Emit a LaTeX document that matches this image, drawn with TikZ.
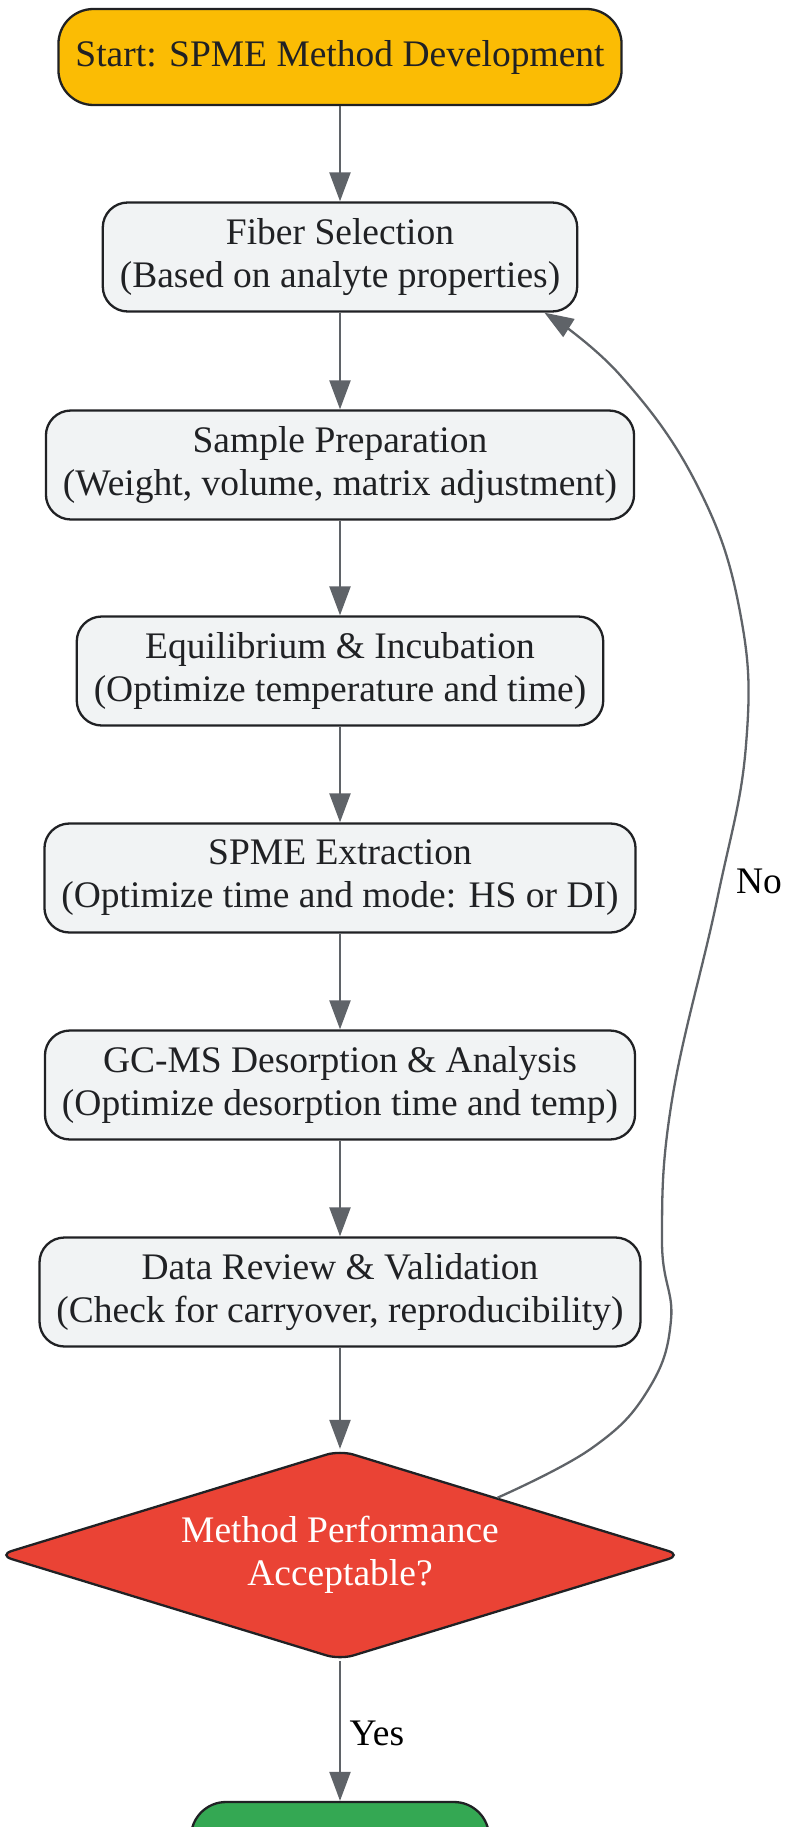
\documentclass[tikz,border=0pt]{standalone}
\usepackage{fontspec}
\setmainfont{Liberation Serif}
\usetikzlibrary{shapes.geometric,arrows.meta}
\definecolor{startc}{HTML}{FBBC04}
\definecolor{endc}{HTML}{34A853}
\definecolor{decc}{HTML}{EA4335}
\definecolor{boxfill}{HTML}{F1F3F4}
\definecolor{boxline}{HTML}{202124}
\definecolor{arrc}{HTML}{5F6368}

\begin{document}
\begin{tikzpicture}[x=1pt,y=-1pt,
  every node/.style={font=\fontsize{37.5}{43}\selectfont},
  box/.style={draw=boxline, line width=2.3pt, fill=boxfill, rounded corners=25pt,
    align=center, inner xsep=17pt, minimum height=109pt, text=boxline},
  flow/.style={draw=arrc, line width=2.3pt, -{Triangle[length=29pt,width=21pt]}}]
\useasboundingbox (0,0) rectangle (788,1827);

    \node[box, fill=startc, rounded corners=35pt, minimum height=96pt] (start) at (340,57) {Start: SPME Method Development};
    \node[box] (fiber) at (340,257) {Fiber Selection\\(Based on analyte properties)};
    \node[box] (sample) at (340,465) {Sample Preparation\\(Weight, volume, matrix adjustment)};
    \node[box] (equil) at (340,671) {Equilibrium \& Incubation\\(Optimize temperature and time)};
    \node[box] (extract) at (340,878) {SPME Extraction\\(Optimize time and mode: HS or DI)};
    \node[box] (desorb) at (340,1085) {GC-MS Desorption \& Analysis\\(Optimize desorption time and temp)};
    \node[box] (review) at (340,1292) {Data Review \& Validation\\(Check for carryover, reproducibility)};
    \node[diamond, draw=boxline, line width=2.3pt, fill=decc, rounded corners=14pt, aspect=3.2,
      minimum width=684pt, minimum height=210pt, inner sep=0pt, align=center, text=white] (check) at (340,1555) {Method Performance\\Acceptable?};
    \node[box, fill=endc, rounded corners=35pt, minimum width=298pt, minimum height=96pt] (finish) at (340,1850) {};

    \draw[flow] (start) -- (fiber);
    \draw[flow] (fiber) -- (sample);
    \draw[flow] (sample) -- (equil);
    \draw[flow] (equil) -- (extract);
    \draw[flow] (extract) -- (desorb);
    \draw[flow] (desorb) -- (review);
    \draw[flow] (review) -- (check);
    \draw[flow] (check) -- (finish);
    \node[anchor=west] (yes) at (346,1733) {Yes};

    % loop back when not acceptable
    \draw[flow] plot[smooth, tension=0.7] coordinates {(check.20) (592,1448) (648,1390) (671,1320)
      (662,1240) (672,1100) (717,900) (746,745) (740,612) (697,485) (620,375)
      ([xshift=-34pt]fiber.south east)};
    \node (no) at (759,881) {No};
\end{tikzpicture}
\end{document}
